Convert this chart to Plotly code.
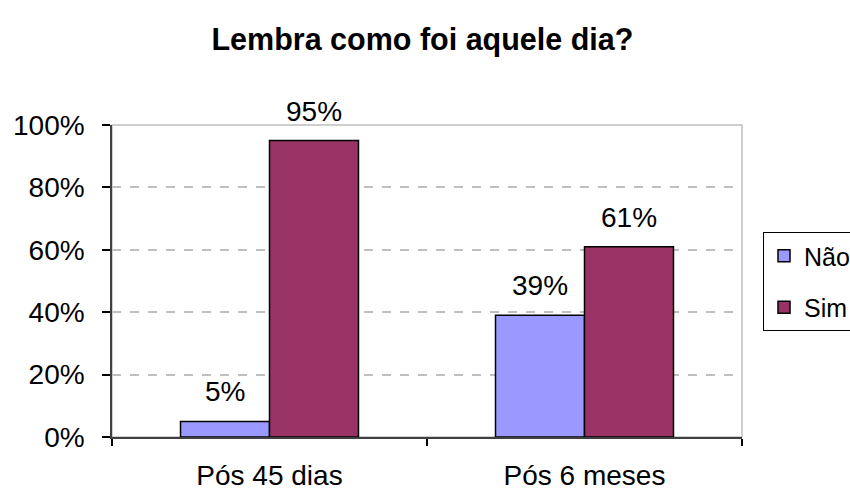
import plotly.graph_objects as go

# Chart data
categories = ["Pós 45 dias", "Pós 6 meses"]
nao_values = [0.05, 0.39]
sim_values = [0.95, 0.61]
series_names = ["Não", "Sim"]
series_colors = ["#9999FF", "#993366"]
title_text = "Lembra como foi aquele dia?"

FONT = "Liberation Sans, Arial, sans-serif"
W, H = 850, 494
L, R, T, B = 112, 108, 125, 57
BARGAP = 0.435

fig = go.Figure()
for name, vals, col, grp in zip(series_names, [nao_values, sim_values],
                                series_colors, ["a", "b"]):
    fig.add_trace(go.Bar(
        name=name, x=categories, y=vals,
        marker=dict(color=col, line=dict(color="black", width=1.5)),
        legendgroup=grp,
    ))

# value labels above each bar, offset to the bar's slot inside its group
plot_w = W - L - R
slot = plot_w / len(categories)
bar_w = slot * (1 - BARGAP) / 2
for k, vals in enumerate([nao_values, sim_values]):
    shift = (k - 0.5) * bar_w
    for cat, v in zip(categories, vals):
        fig.add_annotation(x=cat, y=v, xref="x", yref="y",
                           text=f"{v:.0%}", showarrow=False,
                           xanchor="center", yanchor="bottom",
                           xshift=shift, yshift=12,
                           font=dict(size=28, family=FONT, color="black"))

# plot-area frame (grey), drawn beneath the axes
fig.add_shape(type="rect", xref="paper", yref="paper", x0=0, x1=1, y0=0, y1=1,
              line=dict(color="#BFBFBF", width=1.5), layer="below")

fig.update_layout(
    width=W, height=H,
    margin=dict(l=L, r=R, t=T, b=B, autoexpand=False),
    paper_bgcolor="white", plot_bgcolor="white",
    font=dict(family=FONT, color="black"),
    title=dict(text="<b>" + title_text + "</b>", x=0.497, xanchor="center",
               y=1 - 39 / H, yanchor="middle",
               font=dict(size=30.5, family=FONT, color="black")),
    barmode="group", bargap=BARGAP, bargroupgap=0,
    showlegend=True,
    legend=dict(xref="container", yref="container",
                x=763 / W, xanchor="left",
                y=1 - 232 / H, yanchor="top",
                bordercolor="black", borderwidth=1, bgcolor="white",
                font=dict(size=25, family=FONT, color="black"),
                tracegroupgap=16),
    xaxis=dict(showline=True, linecolor="#404040", linewidth=1.5,
               ticks="outside", tickson="boundaries", ticklen=7,
               tickcolor="black", tickwidth=1.5, ticklabelstandoff=13,
               tickfont=dict(size=28, family=FONT, color="black"),
               showgrid=False),
    yaxis=dict(range=[0, 1], dtick=0.2, tickformat=".0%",
               showline=True, linecolor="#404040", linewidth=1.5,
               ticks="outside", ticklen=8, tickcolor="black", tickwidth=1.5,
               ticklabelstandoff=12,
               tickfont=dict(size=28, family=FONT, color="black"),
               showgrid=True, gridcolor="#BFBFBF", griddash="dash", gridwidth=1.5,
               zeroline=False),
)

fig.write_html("out.html")
